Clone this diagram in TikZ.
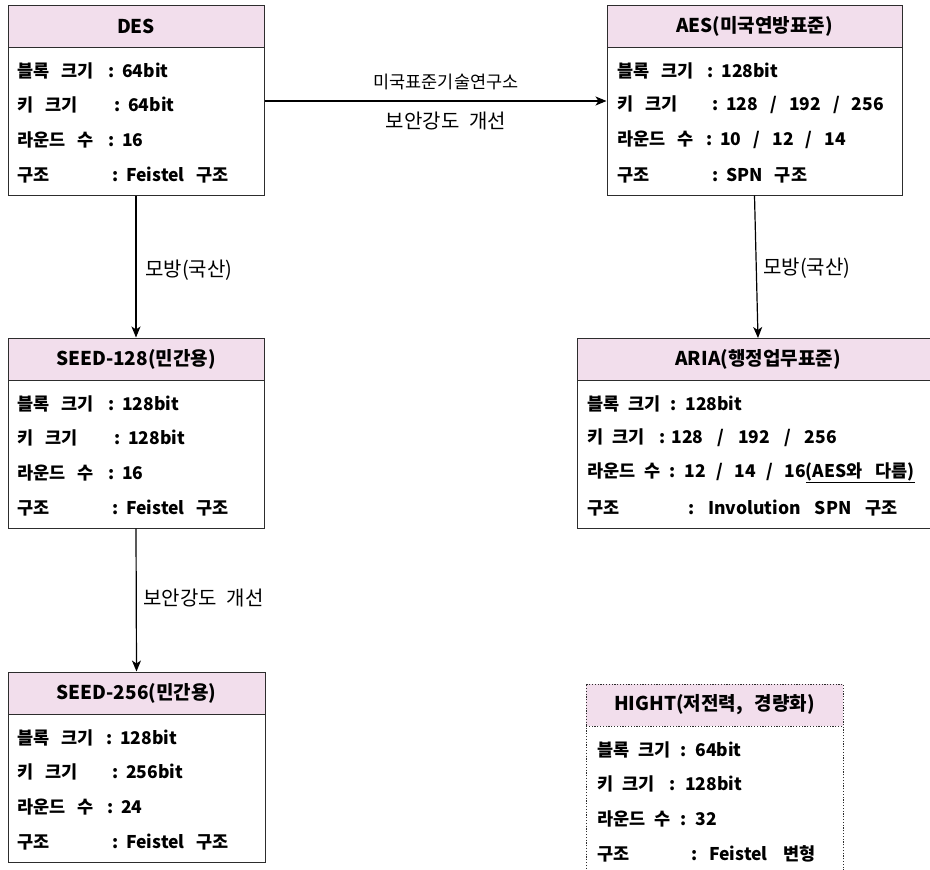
\documentclass[tikz,border=0pt]{standalone}
\usepackage{fontspec}
\setmainfont{Noto Sans CJK KR}
\newfontfamily\kr{Noto Sans CJK KR}
\usetikzlibrary{arrows.meta}
\definecolor{hdrpink}{RGB}{242,222,236}
\definecolor{edgegray}{RGB}{45,45,45}
\newcommand\gp{\hspace{12pt}}
\newcommand\ngp{\hspace{9pt}}
\newcommand\wgp{\hspace{12pt}}
\newcommand\lb[4]{\makebox[#1][l]{#2}:\hspace{#4}#3}
\newcommand\hfont{\kr\bfseries\fontsize{19}{21}\selectfont}
\newcommand\bfont{\kr\bfseries\fontsize{17.5}{19}\selectfont}
\newcommand\lfont{\kr\fontsize{20}{22}\selectfont}
\newcommand\sfont{\kr\fontsize{17.5}{19}\selectfont}
\tikzset{
  hdrbox/.style={draw=edgegray, fill=hdrpink, line width=1pt, minimum height=42pt, inner sep=0pt, font=\hfont},
  bodybox/.style={draw=edgegray, fill=white, line width=1pt, minimum height=148pt, inner sep=0pt},
  dots/.style={dash pattern=on 1.2pt off 1.6pt, line width=0.9pt},
  rowtxt/.style={anchor=west, inner sep=0pt, font=\bfont},
  arr/.style={draw=black, line width=1.2pt, -{Stealth[length=11pt,width=9pt,inset=3pt]}},
  elab/.style={inner sep=0pt, font=\lfont},
}
\newcommand\rowsat[7]{%
  \node[rowtxt] (#1r1) at (#2,#3+24) {#4};
  \node[rowtxt] (#1r2) at (#2,#3+58) {#5};
  \node[rowtxt] (#1r3) at (#2,#3+93) {#6};
  \node[rowtxt] (#1r4) at (#2,#3+128) {#7};
}
\begin{document}
\begin{tikzpicture}[x=1pt,y=-1pt]
\useasboundingbox (0,0) rectangle (930,870);
\fill[white] (0,0) rectangle (930,870);
\clip (0,0) rectangle (930,870);

% DES
\node[hdrbox, minimum width=256pt] (desh) at (136,26) {DES};
\node[bodybox, minimum width=256pt] (desb) at (136,121) {};
\rowsat{des}{17}{47}{\lb{91pt}{블록\gp 크기}{64bit}{8pt}}{\lb{97pt}{키\gp 크기}{64bit}{8pt}}{\lb{91pt}{라운드\gp 수}{16}{8pt}}{\lb{95pt}{구조}{Feistel\wgp 구조}{8pt}}

% AES
\node[hdrbox, minimum width=295pt] (aesh) at (754.5,26) {AES(미국연방표준)};
\node[bodybox, minimum width=295pt] (aesb) at (754.5,121) {};
\rowsat{aes}{617}{47}{\lb{90pt}{블록\gp 크기}{128bit}{8pt}}{\lb{95pt}{키\gp 크기}{128\wgp/\wgp192\wgp/\wgp256}{8pt}}{\lb{89pt}{라운드\gp 수}{10\wgp/\wgp12\wgp/\wgp14}{8pt}}{\lb{95pt}{구조}{SPN\wgp 구조}{8pt}}

% SEED-128
\node[hdrbox, minimum width=256pt] (s1h) at (136,359) {SEED-128(민간용)};
\node[bodybox, minimum width=256pt] (s1b) at (136,454) {};
\rowsat{sa}{17}{380}{\lb{91pt}{블록\gp 크기}{128bit}{8pt}}{\lb{97pt}{키\gp 크기}{128bit}{8pt}}{\lb{91pt}{라운드\gp 수}{16}{8pt}}{\lb{95pt}{구조}{Feistel\wgp 구조}{8pt}}

% SEED-256
\node[hdrbox, minimum width=257pt] (s2h) at (136.5,693) {SEED-256(민간용)};
\node[bodybox, minimum width=257pt] (s2b) at (136.5,788) {};
\rowsat{sb}{17}{714}{\lb{89pt}{블록\gp 크기}{128bit}{8pt}}{\lb{95pt}{키\gp 크기}{256bit}{8pt}}{\lb{90pt}{라운드\gp 수}{24}{8pt}}{\lb{95pt}{구조}{Feistel\wgp 구조}{8pt}}

% ARIA
\node[hdrbox, minimum width=362pt] (arh) at (758,359) {ARIA(행정업무표준)};
\node[bodybox, minimum width=362pt] (arb) at (758,454) {};
\rowsat{ar}{587}{380}{\lb{83pt}{블록\ngp 크기}{128bit}{9pt}}{\lb{72pt}{키\ngp 크기}{128\hspace{14pt}/\hspace{14pt}192\hspace{14pt}/\hspace{14pt}256}{6pt}}{\lb{82pt}{라운드\ngp 수}{12\hspace{11pt}/\hspace{11pt}14\hspace{11pt}/\hspace{11pt}16\underline{(AES와\hspace{13pt}다름)}}{9pt}}{\lb{101pt}{구조}{Involution\hspace{14pt}SPN\hspace{14pt}구조}{14pt}}

% HIGHT
\node[hdrbox, dots, minimum width=257pt] (hih) at (714.5,705) {HIGHT(저전력,\gp 경량화)};
\node[bodybox, dots, minimum width=257pt] (hib) at (714.5,800) {};
\rowsat{hi}{597}{726}{\lb{83pt}{블록\ngp 크기}{64bit}{9pt}}{\lb{72pt}{키\ngp 크기}{128bit}{10pt}}{\lb{83pt}{라운드\ngp 수}{32}{9pt}}{\lb{94pt}{구조}{Feistel\hspace{16pt}변형}{12pt}}

% connectors
\coordinate (ariatop) at (758,338);
\draw[arr] (desb.east |- 0,101) -- (aesb.west |- 0,101);
\draw[arr] (desb.south) -- (s1h.north);
\draw[arr] (s1b.south) -- (s2h.north);
\draw[arr] (aesb.south) -- (ariatop);

% connector labels
\node[inner sep=0pt, font=\sfont] (nist) at (446,82) {미국표준기술연구소};
\node[elab] (imp1) at (446,121) {보안강도\hspace{10pt}개선};
\node[elab, anchor=west] (m1) at (145,270) {모방(국산)};
\node[elab, anchor=west] (imp2) at (143,598) {보안강도\hspace{10pt}개선};
\node[elab, anchor=west] (m2) at (763,268) {모방(국산)};
\end{tikzpicture}
\end{document}
